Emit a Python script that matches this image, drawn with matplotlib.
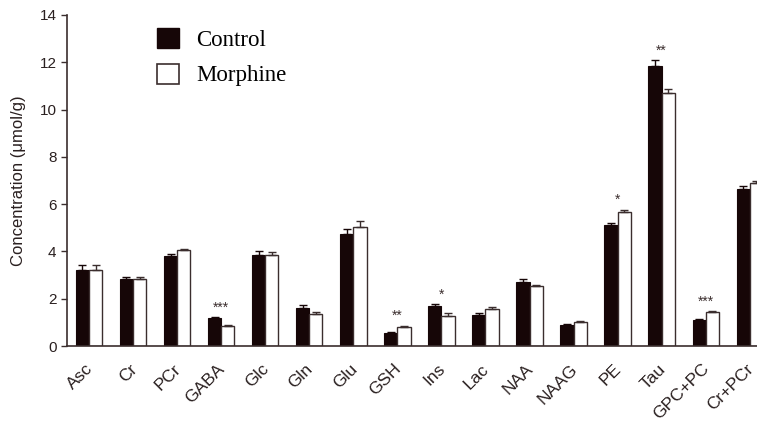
import numpy as np
import matplotlib
matplotlib.use("Agg")
import matplotlib.pyplot as plt
from matplotlib.patches import Patch

metabolites = ["Asc", "Cr", "PCr", "GABA", "Glc", "Gln", "Glu", "GSH",
               "Ins", "Lac", "NAA", "NAAG", "PE", "Tau", "GPC+PC", "Cr+PCr"]
control = [3.22, 2.82, 3.82, 1.18, 3.85, 1.60, 4.75, 0.57,
           1.70, 1.30, 2.70, 0.88, 5.12, 11.84, 1.10, 6.66]
control_err = [0.22, 0.10, 0.08, 0.04, 0.18, 0.12, 0.18, 0.03,
               0.06, 0.08, 0.12, 0.03, 0.10, 0.25, 0.03, 0.12]
morphine = [3.22, 2.83, 4.05, 0.85, 3.85, 1.35, 5.05, 0.82,
            1.27, 1.55, 2.52, 1.02, 5.65, 10.72, 1.42, 6.88]
morphine_err = [0.20, 0.10, 0.07, 0.03, 0.12, 0.10, 0.22, 0.04,
                0.12, 0.12, 0.06, 0.04, 0.12, 0.14, 0.04, 0.08]
stars = {"GABA": "***", "GSH": "**", "Ins": "*", "PE": "*",
         "Tau": "**", "GPC+PC": "***"}

dark = "#160607"
spine = "#3b2e2e"
text_c = "#2a2020"

fig = plt.figure(figsize=(7.57, 4.24), dpi=100)
ax = fig.add_axes([67 / 757, 1 - 346 / 424, 1 - 67 / 757 + 0.005, (346 - 15) / 424])

x = np.arange(len(metabolites))
w = 0.3
zeros = np.zeros(len(x))
ax.bar(x - w / 2, control, w, color=dark, edgecolor=dark, linewidth=0.8,
       yerr=[zeros, control_err], capsize=3,
       error_kw=dict(ecolor=dark, elinewidth=1, capthick=1))
ax.bar(x + w / 2, morphine, w, color="white", edgecolor=spine, linewidth=1.0,
       yerr=[zeros, morphine_err], capsize=3,
       error_kw=dict(ecolor=spine, elinewidth=1, capthick=1))

for name, s in stars.items():
    i = metabolites.index(name)
    top = max(control[i] + control_err[i], morphine[i] + morphine_err[i])
    ax.text(i, top + 0.4, s, ha="center", va="center", fontsize=10,
            color=spine, family="Liberation Sans")

ax.set_xlim(-0.5, 15.25)
ax.set_ylim(0, 14)
ax.set_yticks(range(0, 15, 2))
# labels anchored a touch left of the group centre (ticks themselves hidden)
ax.set_xticks(x - 0.09)
ax.set_xticklabels(metabolites, rotation=45, ha="right", rotation_mode="anchor",
                   fontsize=12.5, family="Liberation Sans", color=text_c)
for lab in ax.get_yticklabels():
    lab.set_family("Liberation Sans")
    lab.set_fontsize(11)
    lab.set_color(text_c)
ax.tick_params(axis="x", length=0, pad=11)
ax.tick_params(axis="y", length=4, color=spine, width=1)
for side in ["top", "right"]:
    ax.spines[side].set_visible(False)
for side in ["left", "bottom"]:
    ax.spines[side].set_color(spine)
    ax.spines[side].set_linewidth(1.2)

ax.set_ylabel("Concentration (μmol/g)", fontsize=12, family="Liberation Sans",
              color=text_c, labelpad=10)

handles = [Patch(facecolor=dark, edgecolor=dark, label="Control"),
           Patch(facecolor="white", edgecolor=spine, linewidth=1.2, label="Morphine")]
fig.legend(handles=handles, loc="upper left", bbox_to_anchor=(157 / 757, 1 - 28 / 424),
           bbox_transform=fig.transFigure, borderpad=0, borderaxespad=0,
           frameon=False, prop={"family": "Liberation Serif", "size": 16.5},
           handlelength=0.97, handleheight=0.97, handletextpad=0.75, labelspacing=0.55)

fig.savefig("out.png", dpi=100)
